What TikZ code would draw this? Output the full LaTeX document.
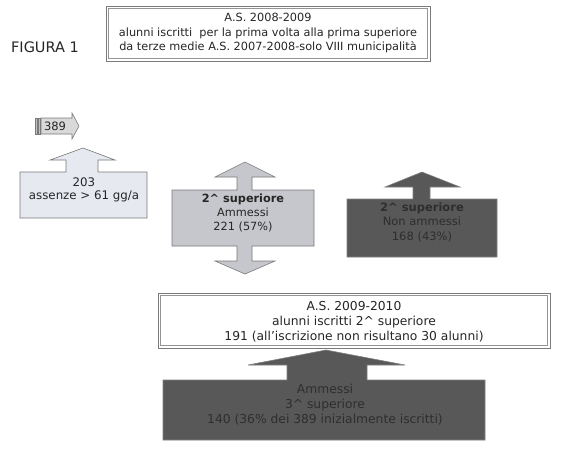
\documentclass[tikz,border=0pt]{standalone}
\usepackage{fontspec}
\setmainfont{DejaVu Sans}
\definecolor{lightfill}{HTML}{E6E9F0}
\definecolor{midfill}{HTML}{C6C7CD}
\definecolor{darkfill}{HTML}{585858}
\definecolor{darktext}{HTML}{2E2E2E}
\definecolor{edgegray}{HTML}{7A7A7A}
\begin{document}
\begin{tikzpicture}[x=1pt,y=-1pt,
  txt/.style={font=\fontsize{11.3}{14.5}\selectfont, align=center, inner sep=0pt, text=black!85},
  bigtxt/.style={font=\fontsize{12.3}{15}\selectfont, align=center, inner sep=0pt, text=black!85},
  outerframe/.style={draw=edgegray, line width=0.9pt, fill=white},
  innerframe/.style={draw=edgegray!80, line width=0.5pt},
  lightshape/.style={draw=edgegray, line width=0.6pt, fill=lightfill},
  midshape/.style={draw=edgegray, line width=0.6pt, fill=midfill},
  darkshape/.style={draw=black!50, line width=0.6pt, fill=darkfill},
  darktxt/.style={font=\fontsize{11.5}{14.5}\selectfont, align=center, inner sep=0pt, text=darktext}]
\useasboundingbox (0,0) rectangle (568,448);
\fill[white] (0,0) rectangle (568,448);

% title
\node[font=\fontsize{14.5}{16}\selectfont, inner sep=0pt, text=black!85] (fig) at (45,47) {FIGURA 1};

% top box
\draw[outerframe] (106,6) rectangle (430,61);
\draw[innerframe] (108.5,8.5) rectangle (427.5,58.5);
\node[txt] (top) at (268,33) {A.S. 2008-2009\\alunni iscritti\ \ per la prima volta alla prima superiore\\da terze medie A.S. 2007-2008-solo VIII municipalità};

% 389 arrow
\draw[lightshape, fill=black!15] (41,118) -- (72,118) -- (72,113) -- (79,126) -- (72,139) -- (72,134) -- (41,134) -- cycle;
\draw[lightshape, fill=black!25, line width=0.4pt] (35,118) rectangle (37,134);
\draw[lightshape, fill=black!25, line width=0.4pt] (38,118) rectangle (40,134);
\node[txt, font=\fontsize{11.5}{12}\selectfont] (n389) at (55,126) {389};

% 203 arrow box
\draw[lightshape] (20,172) -- (66,172) -- (66,160) -- (50,160) -- (83,148) -- (115,160) -- (98,160) -- (98,172) -- (147,172) -- (147,218) -- (20,218) -- cycle;
\node[bigtxt, font=\fontsize{11.8}{13.5}\selectfont] (n203) at (84,190) {203\\assenze > 61 gg/a};

% middle double arrow
\draw[midshape] (172,190) -- (237,190) -- (237,177) -- (215,177) -- (245,162) -- (275,177) -- (252,177) -- (252,190) -- (314,190) -- (314,246) -- (252,246) -- (252,261) -- (275,261) -- (245,274) -- (215,261) -- (237,261) -- (237,246) -- (172,246) -- cycle;
\node[txt, font=\fontsize{11.3}{13.7}\selectfont] (amm) at (243,213) {\textbf{2\^{} superiore}\\Ammessi\\221 (57\%)};

% right dark arrow box
\draw[darkshape] (347,199) -- (413,199) -- (413,187) -- (385,187) -- (422,172) -- (460,187) -- (430,187) -- (430,199) -- (497,199) -- (497,257) -- (347,257) -- cycle;
\node[darktxt] (nonamm) at (422,222) {\textbf{2\^{} superiore}\\Non ammessi\\168 (43\%)};

% bottom white box
\draw[outerframe] (158,293) rectangle (550,348);
\draw[innerframe] (160.5,295.5) rectangle (547.5,345.5);
\node[bigtxt] (bot) at (354,322) {A.S. 2009-2010\\alunni iscritti 2\^{} superiore\\191 (all’iscrizione non risultano 30 alunni)};

% bottom dark arrow box
\draw[darkshape] (163,380) -- (287,380) -- (287,365) -- (248,365) -- (326,350) -- (405,365) -- (367,365) -- (367,380) -- (485,380) -- (485,440) -- (163,440) -- cycle;
\node[darktxt, font=\fontsize{12.3}{15}\selectfont] (amm3) at (325,405) {Ammessi\\3\^{} superiore\\140 (36\% dei 389 inizialmente iscritti)};
\end{tikzpicture}
\end{document}
